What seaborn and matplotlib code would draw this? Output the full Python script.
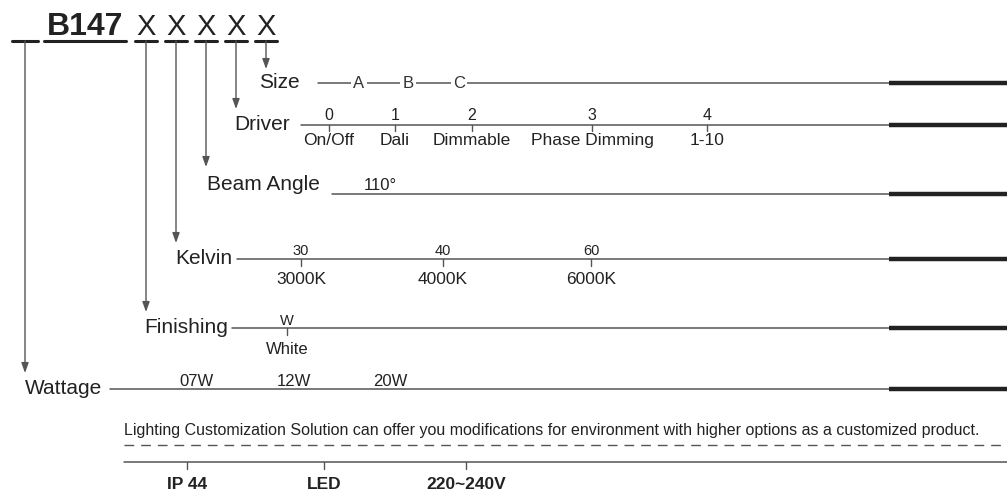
import pandas as pd
import matplotlib.pyplot as plt
import seaborn as sns

# Código do produto
prefixo = "B147"
campos = ["X", "X", "X", "X", "X"]

# Linhas de opções (de cima para baixo)
linhas = ["Size", "Driver", "Beam Angle", "Kelvin", "Finishing", "Wattage"]

size_codigos = ["A", "B", "C"]
driver_codigos = ["0", "1", "2", "3", "4"]
driver_nomes = ["On/Off", "Dali", "Dimmable", "Phase Dimming", "1-10"]
beam_opcoes = ["110°"]
kelvin_codigos = ["30", "40", "60"]
kelvin_nomes = ["3000K", "4000K", "6000K"]
finishing_codigos = ["W"]
finishing_nomes = ["White"]
wattage_opcoes = ["07W", "12W", "20W"]

nota = ("Lighting Customization Solution can offer you modifications for "
        "environment with higher options as a customized product.")
specs = ["IP 44", "LED", "220~240V"]

# Layout (pixels)
linha_y = [83, 125, 194, 259, 328, 389]
label_dir = [300, 290, 320, 232, 228, 102]
linha_ini = [318, 301, 332, 237, 232, 110]
seta_x = [266, 236, 206, 176, 146, 25]
grosso_ini = 889
W, H = 1007, 492

sns.set_theme(style="white")
plt.rcParams['font.family'] = ['Liberation Sans', 'DejaVu Sans']
COR = "#222222"
COR_LINHA = "#555555"

fig = plt.figure(figsize=(W / 100, H / 100), dpi=100)
ax = fig.add_axes([0, 0, 1, 1])

# Linhas finas de cada linha de opção via seaborn
df = pd.DataFrame({
    "x": [v for i in range(len(linhas)) for v in (linha_ini[i], grosso_ini)],
    "y": [linha_y[i] for i in range(len(linhas)) for _ in range(2)],
    "linha": [linhas[i] for i in range(len(linhas)) for _ in range(2)],
})
sns.lineplot(data=df, x="x", y="y", units="linha", estimator=None,
             color=COR_LINHA, lw=1.1, ax=ax, legend=False, sort=False)
ax.set_xlim(0, W)
ax.set_ylim(H, 0)
ax.axis("off")

# Linhas grossas à direita
for y in linha_y:
    ax.plot([grosso_ini, W], [y, y], color=COR, lw=3.2, solid_capstyle="butt")

# Cabeçalho
ax.text(85, 35, prefixo, fontsize=23, fontweight="bold", color=COR,
        ha="center", va="baseline")
ax.plot([12, 38], [41, 41], color=COR, lw=2.2)
ax.plot([44, 126], [41, 41], color=COR, lw=2.2)
campo_x = [146, 176, 206, 236, 266]
for x, c in zip(campo_x, campos):
    ax.text(x, 35, c, fontsize=21, color=COR, ha="center", va="baseline")
    ax.plot([x - 11, x + 11], [41, 41], color=COR, lw=2.2)

# Setas verticais
for i, nome in enumerate(linhas):
    x = seta_x[i]
    y = linha_y[i]
    if nome == "Beam Angle":
        ponta = y - 27
    elif nome == "Size":
        ponta = y - 14
    else:
        ponta = y - 16
    ax.annotate("", xy=(x, ponta), xytext=(x, 41),
                arrowprops=dict(arrowstyle="-|>,head_length=0.5,head_width=0.18",
                                color=COR_LINHA, lw=1.0, shrinkA=0, shrinkB=0))
    base = y - 4 if nome == "Beam Angle" else y + 5
    ax.text(label_dir[i], base, nome, fontsize=15, color=COR,
            ha="right", va="baseline")

# Size
for x, c in zip([359, 408, 459], size_codigos):
    ax.text(x, 83, c, fontsize=12, color="#333333", ha="center", va="center",
            bbox=dict(facecolor="white", edgecolor="none", pad=1.5))

# Driver
for x, c, n in zip([329, 395, 472, 592, 707], driver_codigos, driver_nomes):
    ax.text(x, 120, c, fontsize=11.5, color=COR, ha="center", va="baseline")
    ax.plot([x, x], [125, 131], color=COR_LINHA, lw=1)
    ax.text(x, 133, n, fontsize=12.5, color=COR, ha="center", va="top")

# Beam Angle
ax.text(380, 190, beam_opcoes[0], fontsize=12, color=COR, ha="center", va="baseline")

# Kelvin
for x, c, n in zip([301, 443, 591], kelvin_codigos, kelvin_nomes):
    ax.text(x, 255, c, fontsize=10.5, color=COR, ha="center", va="baseline")
    ax.plot([x, x], [259, 266], color=COR_LINHA, lw=1)
    ax.text(x, 272, n, fontsize=12.5, color=COR, ha="center", va="top")

# Finishing
for x, c, n in zip([287], finishing_codigos, finishing_nomes):
    ax.text(x, 325, c, fontsize=10.5, color=COR, ha="center", va="baseline")
    ax.plot([x, x], [328, 335], color=COR_LINHA, lw=1)
    ax.text(x, 342, n, fontsize=12, color=COR, ha="center", va="top")

# Wattage
for x, c in zip([197, 294, 390], wattage_opcoes):
    ax.text(x, 386, c, fontsize=12, color=COR, ha="center", va="baseline")

# Nota e rodapé
ax.text(124, 430, nota, fontsize=11.5, color=COR, ha="left", va="center")
ax.plot([124, W], [445, 445], color=COR_LINHA, lw=1, linestyle=(0, (7, 5)))
ax.plot([124, W], [462, 462], color=COR_LINHA, lw=1.1)
for x, s in zip([187, 324, 466], specs):
    ax.plot([x, x], [462, 469], color=COR_LINHA, lw=1)
    ax.text(x, 477, s, fontsize=12.5, fontweight="bold", color=COR,
            ha="center", va="top")

fig.savefig("out.png", dpi=100)
